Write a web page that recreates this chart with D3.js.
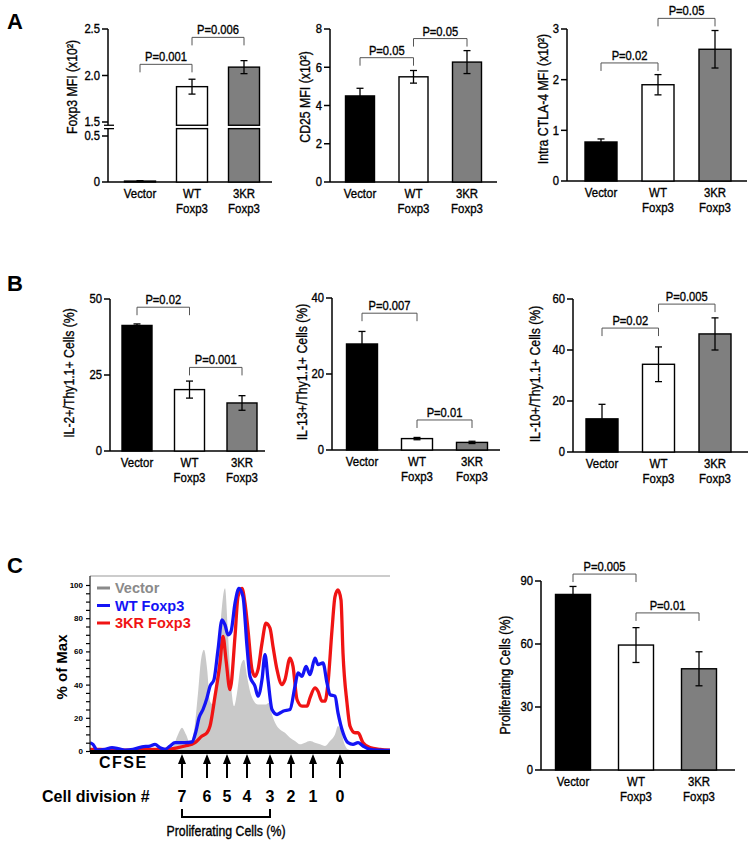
<!DOCTYPE html>
<html><head><meta charset="utf-8">
<script src="https://cdn.jsdelivr.net/npm/d3@7"></script>
<style>
body{margin:0;background:#fff}
svg text{font-family:"Liberation Sans",Arial,sans-serif}
.bold{font-weight:bold}
.med{stroke:#000;stroke-width:0.35px}
</style>
</head><body><svg id="fig" width="750" height="844"></svg>
<script>
// ---------------- DATA ----------------
const groups = ["Vector", "WT Foxp3", "3KR Foxp3"];
const groupLabels = [["Vector"], ["WT", "Foxp3"], ["3KR", "Foxp3"]];

const foxp3Mfi = [0.01, 1.88, 2.09];   const foxp3Err = [0.004, 0.08, 0.07];
const cd25Mfi  = [4.5, 5.5, 6.27];     const cd25Err  = [0.4, 0.33, 0.6];
const ctla4Mfi = [0.77, 1.9, 2.6];     const ctla4Err = [0.06, 0.2, 0.37];
const il2      = [41.3, 20.2, 15.8];   const il2Err   = [0.5, 2.8, 2.4];
const il13     = [27.9, 3.0, 2.0];     const il13Err  = [3.3, 0.3, 0.3];
const il10     = [13, 34.4, 46.3];     const il10Err  = [5.7, 6.8, 6.3];
const prolif   = [83.6, 59.5, 48.2];   const prolifErr= [3.8, 8.3, 8.1];

const foxp3Ticks = [0, 0.5, 1.5, 2.0, 2.5];
const cd25Ticks = [0, 2, 4, 6, 8];
const ctla4Ticks = [0, 1, 2, 3];
const il2Ticks = [0, 25, 50];
const il13Ticks = [0, 20, 40];
const il10Ticks = [0, 20, 40, 60];
const prolifTicks = [0, 30, 60, 90];

// significance brackets: [groupA, groupB, level (axis units), label]
const foxp3Sig  = [[0, 1, 2.12, "P=0.001"], [1, 2, 2.41, "P=0.006"]];
const cd25Sig   = [[0, 1, 6.5, "P=0.05"], [1, 2, 7.5, "P=0.05"]];
const ctla4Sig  = [[0, 1, 2.33, "P=0.02"], [1, 2, 3.21, "P=0.05"]];
const il2Sig    = [[0, 1, 47.3, "P=0.02"], [1, 2, 27.5, "P=0.001"]];
const il13Sig   = [[0, 1, 36, "P=0.007"], [1, 2, 7.9, "P=0.01"]];
const il10Sig   = [[0, 1, 48.6, "P=0.02"], [1, 2, 58, "P=0.005"]];
const prolifSig = [[0, 1, 93.3, "P=0.005"], [1, 2, 74.8, "P=0.01"]];

// CFSE histogram (channel, % of max)
const cfseVector = [[0,0],[10,0.5],[30,0.5],[50,0.5],[70,1],[82,2],[88,10],[92,14],[96,10],[100,5],[104,12],[108,35],[111,55],[114,61],[117,50],[120,30],[123,28],[127,45],[131,80],[135,98],[138,70],[141,40],[144,27],[147,35],[151,52],[154,55],[157,45],[160,36],[164,30],[168,28],[172,28],[176,28],[179,29],[182,22],[186,16],[190,13],[195,11],[200,8],[205,6],[210,4],[215,5],[220,6],[225,5],[230,4],[235,3],[240,6],[245,10],[248,15],[251,12],[254,5],[258,1],[265,0],[300,0]];
const cfseWT = [[0,5],[3,4],[7,0.5],[15,1],[22,2],[28,1.5],[35,0.5],[43,1],[52,2.5],[60,3],[65,4],[70,2],[75,1],[80,3],[85,5],[95,5],[102,5.5],[106,12],[109,20],[113,25],[117,32],[120,39],[124,43],[128,61],[132,79],[135,76],[138,70],[141,72],[145,89],[149,98],[153,93],[157,63],[160,45],[165,39],[168,33],[172,43],[175,58],[178,43],[182,25],[187,22],[193,24],[200,25],[205,39],[208,47],[212,45],[216,51],[220,46],[225,56],[228,52],[233,53],[237,41],[240,34],[245,33],[248,23],[253,11],[258,5],[263,4],[268,5],[273,3],[280,1],[290,0.5],[300,0.3]];
const cfse3KR = [[0,1],[10,1],[20,0.5],[40,0.5],[60,1],[78,1],[88,2],[95,3],[105,5],[112,9],[117,11],[120,15],[125,33],[130,53],[133,69],[136,55],[140,37],[145,69],[148,93],[152,98],[155,89],[158,73],[162,49],[165,45],[168,49],[172,65],[176,77],[180,74],[183,63],[187,49],[192,40],[195,43],[200,56],[203,51],[207,31],[212,27],[217,27],[220,32],[225,38],[228,36],[232,30],[235,30],[238,41],[242,73],[245,93],[248,97],[251,91],[253,59],[257,29],[260,15],[265,11],[268,11],[273,5],[280,2],[290,1],[300,0.5]];
const histTicks = [0, 20, 40, 60, 80, 100];
const divisionNums = [7, 6, 5, 4, 3, 2, 1, 0];
const divisionPos = [92, 117, 137, 157, 180, 201, 223, 250];  // CFSE channel of each division peak
const legendItems = ["Vector", "WT Foxp3", "3KR Foxp3"];

// ---------------- STYLE ----------------
const barFills = ["#000000", "#ffffff", "#7f7f7f"];
const histColors = {gray: "#c9c9c9", blue: "#1414f5", red: "#f01414", legendGray: "#8a8a8a"};
const NARROW = 0.84;

const svg = d3.select("#fig");
svg.append("rect").attr("width", 750).attr("height", 844).attr("fill", "#fff");

// condensed text (horizontally compressed, like Helvetica Condensed)
function ntext(g, x, y, str, size, anchor, rot, sx) {
  return g.append("text").attr("class", "med")
    .attr("transform", `translate(${x},${y})${rot ? ` rotate(${rot})` : ""} scale(${sx || NARROW},1)`)
    .attr("text-anchor", anchor || "start").attr("font-size", size).attr("fill", "#000").text(str);
}

function drawYTicks(g, scale, ax, ticks, fmt) {
  ticks.forEach(t => {
    const yy = scale(t);
    g.append("line").attr("x1", ax - 6).attr("x2", ax).attr("y1", yy).attr("y2", yy).attr("stroke", "#000").attr("stroke-width", 1.5);
    ntext(g, ax - 8, yy + 4.3, fmt(t), 12.5, "end", 0, 0.9);
  });
}

function drawBars(cfg) {
  const g = svg.append("g");
  const x = d3.scalePoint().domain(groups).range([cfg.c0, cfg.c2]);
  let y, lo, up;
  const fmt = cfg.fmt || (d => d3.format("d")(d));
  if (cfg.broken) {
    lo = d3.scaleLinear().domain([0, 0.5]).range([cfg.y0, cfg.broken.loPx]);
    up = d3.scaleLinear().domain([1.5, 2.5]).range([cfg.broken.upPx, cfg.yTop]);
    y = v => v <= cfg.broken.low ? lo(v) : up(v);
    const b = cfg.broken;
    drawYTicks(g, lo, cfg.ax, cfg.ticks.filter(t => t <= 0.5), fmt);
    drawYTicks(g, up, cfg.ax, cfg.ticks.filter(t => t >= 1.5), fmt);
    g.append("line").attr("x1", cfg.ax).attr("x2", cfg.ax).attr("y1", lo(0)).attr("y2", lo(b.low))
      .attr("stroke", "#000").attr("stroke-width", 1.5);
    g.append("line").attr("x1", cfg.ax).attr("x2", cfg.ax).attr("y1", up(b.high)).attr("y2", up(2.5))
      .attr("stroke", "#000").attr("stroke-width", 1.5);
    [lo(b.low), up(b.high)].forEach(yy => {
      g.append("line").attr("x1", cfg.ax - 4).attr("x2", cfg.ax + 6).attr("y1", yy).attr("y2", yy)
        .attr("stroke", "#000").attr("stroke-width", 1.3);
    });
  } else {
    y = d3.scaleLinear().domain([0, d3.max(cfg.ticks)]).range([cfg.y0, cfg.yTop]);
    drawYTicks(g, y, cfg.ax, cfg.ticks, fmt);
    g.append("line").attr("x1", cfg.ax).attr("x2", cfg.ax).attr("y1", y(0)).attr("y2", y(d3.max(cfg.ticks)))
      .attr("stroke", "#000").attr("stroke-width", 1.5);
  }
  // x axis line
  g.append("line").attr("x1", cfg.ax).attr("x2", cfg.xEnd).attr("y1", cfg.y0).attr("y2", cfg.y0)
    .attr("stroke", "#000").attr("stroke-width", 1.5);
  // bars
  cfg.values.forEach((v, i) => {
    const cx = x(groups[i]);
    const rects = (cfg.broken && v > cfg.broken.high)
      ? [[lo(0), lo(cfg.broken.low)], [up(cfg.broken.high), up(v)]]
      : [[y(0), y(v)]];
    rects.forEach(([yb, yt]) => {
      g.append("rect").attr("x", cx - cfg.barW / 2).attr("y", yt).attr("width", cfg.barW).attr("height", Math.max(0.5, yb - yt))
        .attr("fill", barFills[i]).attr("stroke", "#000").attr("stroke-width", 1.4);
    });
    const e = cfg.errs[i];
    const y1 = y(v + e), y2 = y(Math.max(0, v - e));
    g.append("line").attr("x1", cx).attr("x2", cx).attr("y1", y1).attr("y2", y2).attr("stroke", "#000").attr("stroke-width", 1.3);
    [y1, y2].forEach(yy => g.append("line").attr("x1", cx - 3.5).attr("x2", cx + 3.5).attr("y1", yy).attr("y2", yy)
      .attr("stroke", "#000").attr("stroke-width", 1.3));
    groupLabels[i].forEach((t, k) => ntext(g, cx, cfg.y0 + 16 + k * 14.6, t, 13, "middle", 0, 0.88));
  });
  // significance brackets
  cfg.sig.forEach(([a, b, lvl, label]) => {
    const xa = x(groups[a]), xb = x(groups[b]), yy = y(lvl);
    g.append("path").attr("d", `M${xa},${yy + 8}V${yy}H${xb}V${yy + 8}`)
      .attr("fill", "none").attr("stroke", "#555").attr("stroke-width", 1);
    ntext(g, (xa + xb) / 2, yy - 3, label, 13, "middle", 0, 0.86);
  });
  // y label
  ntext(g, cfg.ylx + 5, cfg.yly, cfg.ylabel, 15, "middle", -90, 0.82);
}

// Panel letters
[["A", 7, 29], ["B", 7, 291], ["C", 7, 573]].forEach(([t, px, py]) => {
  svg.append("text").attr("class", "bold").attr("x", px).attr("y", py).attr("font-size", 22).text(t);
});

drawBars({ax: 108, xEnd: 272, y0: 182, yTop: 29, c0: 140, c2: 244, barW: 31, values: foxp3Mfi, errs: foxp3Err,
  ticks: foxp3Ticks, sig: foxp3Sig, ylabel: "Foxp3 MFI (x10²)", ylx: 72, yly: 87,
  fmt: d => d === 0 ? "0" : d3.format(".1f")(d),
  broken: {low: 0.58, high: 1.465, loPx: 136, upPx: 122}});
drawBars({ax: 330, xEnd: 497, y0: 182, yTop: 29, c0: 360, c2: 467, barW: 29, values: cd25Mfi, errs: cd25Err,
  ticks: cd25Ticks, sig: cd25Sig, ylabel: "CD25 MFI (x10²)", ylx: 305, yly: 97});
drawBars({ax: 567, xEnd: 747, y0: 181, yTop: 29, c0: 601, c2: 715, barW: 32, values: ctla4Mfi, errs: ctla4Err,
  ticks: ctla4Ticks, sig: ctla4Sig, ylabel: "Intra CTLA-4 MFI (x10²)", ylx: 543, yly: 99});

drawBars({ax: 110, xEnd: 265, y0: 451, yTop: 299, c0: 137, c2: 242, barW: 30, values: il2, errs: il2Err,
  ticks: il2Ticks, sig: il2Sig, ylabel: "IL-2+/Thy1.1+ Cells (%)", ylx: 69, yly: 373});
drawBars({ax: 332, xEnd: 500, y0: 450, yTop: 298, c0: 362, c2: 472, barW: 31, values: il13, errs: il13Err,
  ticks: il13Ticks, sig: il13Sig, ylabel: "IL-13+/Thy1.1+ Cells (%)", ylx: 302, yly: 372});
drawBars({ax: 573, xEnd: 748, y0: 452, yTop: 299, c0: 602, c2: 715, barW: 32, values: il10, errs: il10Err,
  ticks: il10Ticks, sig: il10Sig, ylabel: "IL-10+/Thy1.1+ Cells (%)", ylx: 535, yly: 374});

drawBars({ax: 541, xEnd: 735, y0: 770, yTop: 581, c0: 573, c2: 699, barW: 35, values: prolif, errs: prolifErr,
  ticks: prolifTicks, sig: prolifSig, ylabel: "Proliferating Cells (%)", ylx: 505, yly: 675});

// ---------------- CFSE histogram ----------------
(function () {
  const L = 90, R = 390, T = 576, B = 751;
  const xh = d3.scaleLinear().domain([0, 300]).range([L, R]);
  const yh = d3.scaleLinear().domain([0, 100]).range([B, 585]);
  const g = svg.append("g");
  g.append("clipPath").attr("id", "hclip").append("rect").attr("x", L).attr("y", T).attr("width", R - L).attr("height", B - T);
  const pg = g.append("g").attr("clip-path", "url(#hclip)");
  pg.append("path").datum(cfseVector)
    .attr("d", d3.area().x(d => xh(d[0])).y0(yh(0)).y1(d => yh(d[1])).curve(d3.curveMonotoneX))
    .attr("fill", histColors.gray);
  const line = d3.line().x(d => xh(d[0])).y(d => yh(d[1])).curve(d3.curveMonotoneX);
  pg.append("path").datum(cfse3KR).attr("d", line).attr("fill", "none").attr("stroke", histColors.red).attr("stroke-width", 3.3).attr("stroke-linejoin", "round");
  pg.append("path").datum(cfseWT).attr("d", line).attr("fill", "none").attr("stroke", histColors.blue).attr("stroke-width", 3.3).attr("stroke-linejoin", "round");
  // frame
  g.append("line").attr("x1", L).attr("x2", R).attr("y1", T).attr("y2", T).attr("stroke", "#999").attr("stroke-width", 1);
  g.append("line").attr("x1", L).attr("x2", L).attr("y1", T).attr("y2", B).attr("stroke", "#222").attr("stroke-width", 1.2);
  g.append("line").attr("x1", L).attr("x2", R).attr("y1", B + 1).attr("y2", B + 1).attr("stroke", "#000").attr("stroke-width", 4);
  // y ticks (minor every 5, labels every 20)
  const minor = d3.range(0, 101, 5);
  const ga = g.append("g").attr("transform", `translate(${L},0)`)
    .call(d3.axisLeft(yh).tickValues(minor).tickSize(4).tickPadding(3).tickFormat(d => histTicks.includes(d) ? d : ""));
  ga.select("path.domain").remove();
  ga.selectAll(".tick line").attr("stroke", "#000").attr("stroke-width", 1.2);
  ga.selectAll(".tick text").attr("font-weight", "bold").attr("font-family", "Liberation Sans, Arial, sans-serif").attr("font-size", 8).attr("fill", "#000");
  g.append("text").attr("class", "bold").attr("transform", `translate(62,667) rotate(-90)`)
    .attr("text-anchor", "middle").attr("dy", "0.35em").attr("font-size", 15).text("% of Max");
  // legend
  const lc = [histColors.legendGray, histColors.blue, histColors.red];
  legendItems.forEach((t, i) => {
    const yy = 588 + i * 17.5;
    g.append("line").attr("x1", 97).attr("x2", 110).attr("y1", yy).attr("y2", yy).attr("stroke", lc[i]).attr("stroke-width", 3);
    g.append("text").attr("class", "bold").attr("x", 115).attr("y", yy + 5.3).attr("font-size", 14.5).attr("fill", lc[i]).text(t);
  });
  // CFSE label
  g.append("text").attr("class", "bold").attr("x", 99).attr("y", 768).attr("font-size", 16).attr("letter-spacing", 1.5).text("CFSE");
  // arrows & division numbers
  divisionPos.forEach((p, i) => {
    const ax = xh(p);
    g.append("line").attr("x1", ax).attr("x2", ax).attr("y1", 762).attr("y2", 778).attr("stroke", "#000").attr("stroke-width", 2);
    g.append("path").attr("d", `M${ax - 4},${764}L${ax},${754}L${ax + 4},${764}Z`).attr("fill", "#000");
    g.append("text").attr("class", "bold").attr("x", ax).attr("y", 802).attr("text-anchor", "middle").attr("font-size", 16).text(divisionNums[i]);
  });
  g.append("text").attr("class", "bold").attr("x", 42).attr("y", 802).attr("font-size", 16).text("Cell division #");
  const b0 = xh(divisionPos[0]), b1 = xh(divisionPos[4]);
  g.append("path").attr("d", `M${b0},809V817H${b1}V809`).attr("fill", "none").attr("stroke", "#000").attr("stroke-width", 2);
  ntext(g, (b0 + b1) / 2, 836, "Proliferating Cells (%)", 14, "middle", 0, 0.88);
})();
</script>
</body></html>
